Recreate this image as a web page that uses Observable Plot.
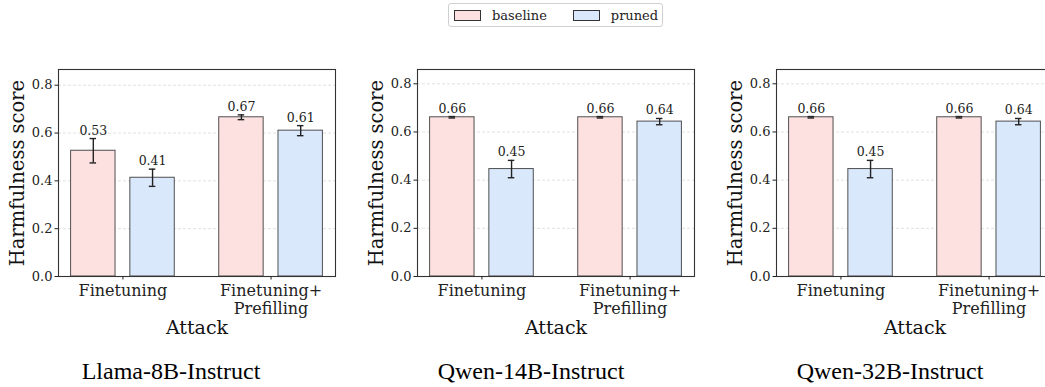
<!DOCTYPE html>
<html>
<head>
<meta charset="utf-8">
<script src="https://cdn.jsdelivr.net/npm/d3@7"></script>
<script src="https://cdn.jsdelivr.net/npm/@observablehq/plot@0.6"></script>
<style>
  html, body { margin: 0; padding: 0; background: #fff; }
  body { width: 1045px; height: 387px; position: relative; overflow: hidden; font-family: "DejaVu Serif", serif; }
  .panel { position: absolute; top: 40px; width: 345px; height: 300px; }
  .panel svg { max-width: none !important; overflow: visible; }
  .caption { position: absolute; top: 359px; width: 360px; text-align: center; font-family: "Liberation Serif", "Times New Roman", serif; font-size: 24px; line-height: 24px; color: #000; }
  #legend { position: absolute; left: 448px; top: 3px; width: 213px; height: 22px; border: 1px solid #d0d0d0; border-radius: 3px; box-sizing: content-box; display: flex; align-items: center; font-family: "DejaVu Serif", serif; font-size: 13px; color: #222; }
  #legend .item { display: flex; align-items: center; }
  #legend .sw { display: inline-block; width: 25px; height: 9px; border: 1px solid #333; margin-right: 11px; }
</style>
</head>
<body>
<div id="legend"></div>
<div id="charts"></div>
<script>
// ---- data ----
const models = ["Llama-8B-Instruct", "Qwen-14B-Instruct", "Qwen-32B-Instruct"];
const attacks = ["Finetuning", "Finetuning+\nPrefilling"];
const methods = ["baseline", "pruned"];
const baselineMean = [[0.526, 0.666], [0.661, 0.661], [0.661, 0.661]];
const baselineErr  = [[0.051, 0.010], [0.003, 0.003], [0.003, 0.003]];
const prunedMean   = [[0.413, 0.610], [0.446, 0.643], [0.446, 0.643]];
const prunedErr    = [[0.036, 0.021], [0.036, 0.013], [0.036, 0.013]];
const yTicks = [0, 0.2, 0.4, 0.6, 0.8];

// ---- style ----
const colors = {baseline: "#fde1e1", pruned: "#dae8fc"};
const barW = 0.3, offset = 0.2, cap = 0.022;
const panelLeft = [0, 359, 718];
const captionCenter = [171, 531, 890];

// legend
const legend = document.getElementById("legend");
methods.forEach((m, i) => {
  const it = document.createElement("div");
  it.className = "item";
  it.style.marginLeft = i === 0 ? "5px" : "26px";
  const sw = document.createElement("span");
  sw.className = "sw";
  sw.style.background = colors[m];
  it.appendChild(sw);
  it.appendChild(document.createTextNode(m));
  legend.appendChild(it);
});

const charts = document.getElementById("charts");
models.forEach((model, p) => {
  const rows = [];
  attacks.forEach((a, i) => {
    methods.forEach((m, j) => {
      const mean = (m === "baseline" ? baselineMean : prunedMean)[p][i];
      const err = (m === "baseline" ? baselineErr : prunedErr)[p][i];
      const xc = i + (j === 0 ? -offset : offset);
      rows.push({attack: a, method: m, mean, err, xc, x1: xc - barW / 2, x2: xc + barW / 2});
    });
  });
  const yMax = d3.max(rows, d => d.mean) * 1.3;
  const font = "DejaVu Serif";
  const chart = Plot.plot({
    width: 345,
    height: 300,
    marginLeft: 58,
    marginRight: 10,
    marginTop: 29,
    marginBottom: 64,
    style: {fontFamily: font, background: "transparent", color: "#222", overflow: "visible"},
    x: {domain: [-0.435, 1.435]},
    y: {domain: [0, yMax]},
    marks: [
      Plot.gridY(yTicks.slice(1), {stroke: "#cfcfcf", strokeOpacity: 0.8, strokeDasharray: "3,2", strokeWidth: 0.8}),
      Plot.rectY(rows, {x1: "x1", x2: "x2", y1: 0, y2: "mean", fill: d => colors[d.method], stroke: "#333", strokeWidth: 1, strokeOpacity: 0.85}),
      Plot.ruleX(rows, {x: "xc", y1: d => d.mean - d.err, y2: d => d.mean + d.err, stroke: "#222", strokeWidth: 1.4}),
      Plot.ruleY(rows, {y: d => d.mean - d.err, x1: d => d.xc - cap, x2: d => d.xc + cap, stroke: "#222", strokeWidth: 1.4}),
      Plot.ruleY(rows, {y: d => d.mean + d.err, x1: d => d.xc - cap, x2: d => d.xc + cap, stroke: "#222", strokeWidth: 1.4}),
      Plot.text(rows, {x: "xc", y: d => d.mean + d.err, text: d => d3.format(".2f")(d.mean), lineAnchor: "bottom", dy: -4, fontSize: 12.5, fill: "#222"}),
      Plot.frame({stroke: "#333", strokeWidth: 1.1}),
      Plot.axisY({ticks: yTicks, tickFormat: d3.format(".1f"), tickSize: 3.5, tickPadding: 2.5, fontSize: 13, label: null}),
      Plot.axisX({ticks: [0, 1], tickFormat: i => attacks[i], tickSize: 3.5, tickPadding: 3, fontSize: 16, lineHeight: 1.13, label: null}),
      Plot.text(["Attack"], {frameAnchor: "bottom", lineAnchor: "bottom", dy: 57, fontSize: 19, fill: "#111"}),
      Plot.text(["Harmfulness score"], {frameAnchor: "left", textAnchor: "middle", rotate: -90, lineAnchor: "top", dx: -48, fontSize: 19.5, fill: "#111"})
    ]
  });
  const wrap = document.createElement("div");
  wrap.className = "panel";
  wrap.style.left = panelLeft[p] + "px";
  wrap.appendChild(chart);
  charts.appendChild(wrap);

  const cap_ = document.createElement("div");
  cap_.className = "caption";
  cap_.style.left = (captionCenter[p] - 180) + "px";
  cap_.textContent = model;
  document.body.appendChild(cap_);
});
</script>
</body>
</html>
